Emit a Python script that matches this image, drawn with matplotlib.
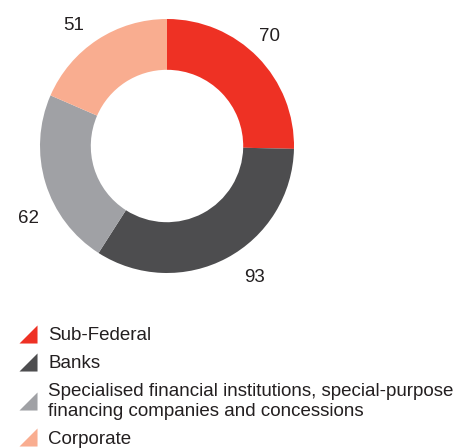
import matplotlib.pyplot as plt
from matplotlib.lines import Line2D
import numpy as np

plt.rcParams['font.family'] = ['Liberation Sans', 'DejaVu Sans']

categories = ['Sub-Federal', 'Banks',
              'Specialised financial institutions, special-purpose\nfinancing companies and concessions',
              'Corporate']
values = [70, 93, 62, 51]
colors = ['#EE3124', '#4D4D4F', '#A0A1A5', '#F9AD90']

fig = plt.figure(figsize=(4.53, 4.48), dpi=100)
ax = fig.add_axes([40 / 453, 175 / 448, 254 / 453, 254 / 448])

wedges, _ = ax.pie(values, colors=colors, startangle=90, counterclock=False,
                   wedgeprops=dict(width=0.4, linewidth=0))

# value labels just outside the ring, nudged a little like the original
nudge = [3, 6, 10, 4]
dist = [1.19, 1.23, 1.22, 1.21]
for w, v, d, r in zip(wedges, values, nudge, dist):
    a = np.deg2rad((w.theta1 + w.theta2) / 2 + d)
    ax.text(r * np.cos(a), r * np.sin(a), str(v), ha='center', va='center_baseline',
            fontsize=13.5, color='#231F20')
ax.set_xlim(-1, 1)
ax.set_ylim(-1, 1)
ax.set_aspect('equal')

# right-angle triangle marker like the original legend
tri = [(-1, -1), (1, -1), (1, 1), (-1, -1)]
handles = [Line2D([], [], linestyle='none', marker=tri, markersize=13,
                  markerfacecolor=c, markeredgewidth=0) for c in colors]
fig.legend(handles, categories, loc='upper left', bbox_to_anchor=(18 / 453, 1 - 327 / 448),
           frameon=False, fontsize=13.5, handlelength=1.1, handletextpad=0.5,
           labelspacing=0.58, borderpad=0, borderaxespad=0, labelcolor='#231F20')

fig.savefig('out.png', dpi=100)
